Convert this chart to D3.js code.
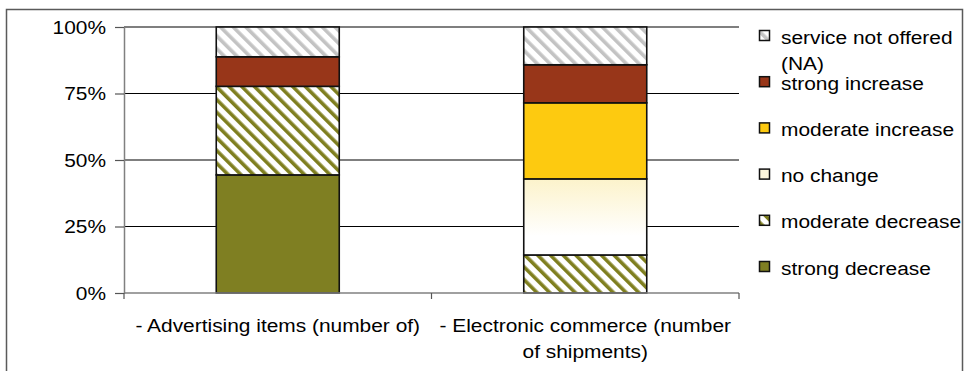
<!DOCTYPE html>
<html>
<head>
<meta charset="utf-8">
<script src="https://cdn.jsdelivr.net/npm/d3@7"></script>
<style>
  html, body { margin: 0; padding: 0; background: #fff; }
  svg { display: block; }
  text { font-family: "Liberation Sans", Arial, sans-serif; fill: #000; }
</style>
</head>
<body>
<svg id="chart" width="972" height="371"></svg>
<script>
// Survey answers per service, in percent of respondents
const categories = [
  "- Advertising items (number of)",
  "- Electronic commerce (number of shipments)"
];
const seriesNames = [
  "strong decrease",
  "moderate decrease",
  "no change",
  "moderate increase",
  "strong increase",
  "service not offered (NA)"
];
const strongDecrease   = [44.4, 0];
const moderateDecrease = [33.3, 14.3];
const noChange         = [0, 28.6];
const moderateIncrease = [0, 28.6];
const strongIncrease   = [11.1, 14.3];
const notOffered       = [11.2, 14.2];
const yTickValues = [0, 0.25, 0.5, 0.75, 1];

const seriesValues = [strongDecrease, moderateDecrease, noChange, moderateIncrease, strongIncrease, notOffered];
const table = categories.map((c, i) => {
  const row = { category: c };
  seriesNames.forEach((s, j) => { row[s] = seriesValues[j][i]; });
  return row;
});

// Layout
const W = 972, H = 371;
const plot = { left: 124, right: 739, top: 27, bottom: 293 };
const FONT = 19;      // px
const SX = 1.1;       // horizontal text stretch

const svg = d3.select("#chart");
const defs = svg.append("defs");

function stripes(id, color) {
  const p = defs.append("pattern")
    .attr("id", id)
    .attr("patternUnits", "userSpaceOnUse")
    .attr("width", 9).attr("height", 9)
    .attr("patternTransform", "rotate(-45)");
  p.append("rect").attr("width", 9).attr("height", 9).attr("fill", "#fff");
  p.append("rect").attr("x", 0).attr("y", 0).attr("width", 3.6).attr("height", 9).attr("fill", color);
}
stripes("stripe-olive", "#7f7f1f");
stripes("stripe-grey", "#c3c3c3");

const grad = defs.append("linearGradient")
  .attr("id", "nochange-grad")
  .attr("x1", 0).attr("y1", 0).attr("x2", 0).attr("y2", 1);
grad.append("stop").attr("offset", 0).attr("stop-color", "#fcf3cb");
grad.append("stop").attr("offset", 0.75).attr("stop-color", "#ffffff");
grad.append("stop").attr("offset", 1).attr("stop-color", "#ffffff");

const fills = {
  "strong decrease": "#7f7f22",
  "moderate decrease": "url(#stripe-olive)",
  "no change": "url(#nochange-grad)",
  "moderate increase": "#fdca10",
  "strong increase": "#983619",
  "service not offered (NA)": "url(#stripe-grey)"
};
const legendFills = Object.assign({}, fills, { "no change": "#fdf7dc" });

// Chart frame
svg.append("path")
  .attr("d", `M6.5,${H + 5} V9.5 H962.5 V${H + 5}`)
  .attr("fill", "none")
  .attr("stroke", "#5a5a5a")
  .attr("stroke-width", 1.5);

// Scales
const x = d3.scaleBand()
  .domain(categories)
  .range([plot.left, plot.right])
  .paddingInner(0.6)
  .paddingOuter(0.3);
const y = d3.scaleLinear().domain([0, 1]).range([plot.bottom, plot.top]);

// Gridlines
svg.append("g")
  .selectAll("line")
  .data(yTickValues.filter(d => d > 0))
  .join("line")
  .attr("x1", plot.left).attr("x2", plot.right)
  .attr("y1", d => y(d)).attr("y2", d => y(d))
  .attr("stroke", "#000")
  .attr("stroke-width", 1.2);

// Stacked 100% bars
const stack = d3.stack().keys(seriesNames).offset(d3.stackOffsetExpand);
const layers = stack(table);
svg.append("g")
  .selectAll("g")
  .data(layers)
  .join("g")
  .attr("fill", d => fills[d.key])
  .selectAll("rect")
  .data(d => d.filter(s => s[1] - s[0] > 0))
  .join("rect")
  .attr("x", d => x(d.data.category))
  .attr("width", x.bandwidth())
  .attr("y", d => y(d[1]))
  .attr("height", d => y(d[0]) - y(d[1]))
  .attr("stroke", "#111")
  .attr("stroke-width", 1.6);

// Y axis
const yAxis = svg.append("g")
  .attr("transform", `translate(${plot.left},0)`)
  .call(d3.axisLeft(y).tickValues(yTickValues).tickFormat(d3.format(".0%")).tickSize(9).tickSizeOuter(0));
yAxis.select(".domain").attr("stroke", "#808080").attr("stroke-width", 1.5);
yAxis.selectAll(".tick line").attr("stroke", "#555").attr("stroke-width", 1.2);
yAxis.selectAll(".tick text")
  .attr("x", null)
  .attr("transform", `translate(-18,0) scale(${SX},1)`)
  .attr("font-size", FONT)
  .attr("font-family", "Liberation Sans, Arial, sans-serif")
  .attr("fill", "#000");

// X axis: baseline with ticks at the category boundaries
const xAxis = svg.append("g");
xAxis.append("line")
  .attr("x1", plot.left).attr("x2", plot.right)
  .attr("y1", plot.bottom).attr("y2", plot.bottom)
  .attr("stroke", "#808080").attr("stroke-width", 1.5);
xAxis.selectAll("line.tick")
  .data(d3.range(categories.length + 1))
  .join("line")
  .attr("class", "tick")
  .attr("x1", i => plot.left + i * x.step())
  .attr("x2", i => plot.left + i * x.step())
  .attr("y1", plot.bottom).attr("y2", plot.bottom + 6)
  .attr("stroke", "#555").attr("stroke-width", 1.2);

// Category labels, wrapped to the category width
function wrapWords(text, maxWidth, probe) {
  const words = text.split(" ");
  const lines = [];
  let line = "";
  words.forEach(w => {
    const trial = line ? line + " " + w : w;
    probe.text(trial);
    if (line && probe.node().getComputedTextLength() * SX > maxWidth) {
      lines.push(line);
      line = w;
    } else {
      line = trial;
    }
  });
  if (line) lines.push(line);
  return lines;
}
const probe = svg.append("text").attr("font-size", FONT).attr("visibility", "hidden");

const catLabels = svg.append("g");
categories.forEach(c => {
  const lines = wrapWords(c, x.step() - 6, probe);
  const cx = x(c) + x.bandwidth() / 2;
  lines.forEach((ln, i) => {
    catLabels.append("text")
      .attr("transform", `translate(${cx},${325 + i * 26}) scale(${SX},1)`)
      .attr("text-anchor", "middle")
      .attr("dy", "0.35em")
      .attr("font-size", FONT)
      .text(ln);
  });
});

// Legend
const legend = svg.append("g");
const legendItems = seriesNames.slice().reverse();
legendItems.forEach((name, k) => {
  const cy = 37 + k * 46.2;
  legend.append("rect")
    .attr("x", 759.5).attr("y", cy - 6.5)
    .attr("width", 10).attr("height", 10)
    .attr("fill", legendFills[name])
    .attr("stroke", "#111").attr("stroke-width", 1.5);
  const lines = wrapWords(name, 184, probe);
  lines.forEach((ln, i) => {
    legend.append("text")
      .attr("transform", `translate(781,${cy + i * 26}) scale(${SX},1)`)
      .attr("dy", "0.35em")
      .attr("font-size", FONT)
      .text(ln);
  });
});
probe.remove();
</script>
</body>
</html>
